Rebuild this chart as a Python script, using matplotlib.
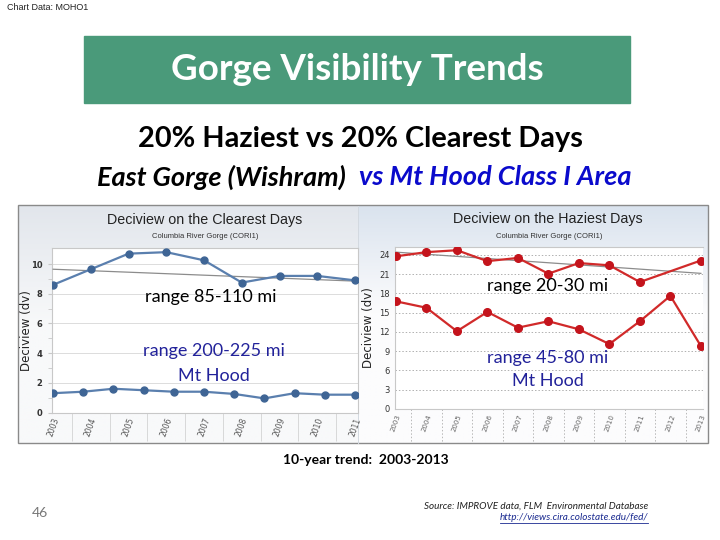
import matplotlib
matplotlib.use('Agg')
import matplotlib.pyplot as plt
import numpy as np
from matplotlib.patches import Rectangle
import matplotlib.transforms as mtransforms

# ---------------- data ----------------
clear_years = ['2003', '2004', '2005', '2006', '2007', '2008', '2009', '2010', '2011']
clear_gorge = [8.6, 9.65, 10.7, 10.8, 10.25, 8.75, 9.2, 9.2, 8.9]
clear_trend = [9.65, 8.85]            # trend at first / last year
hood_years = ['2003', '2004', '2005', '2006', '2007', '2008', '2009', '2010', '2011', '2012', '2013']
clear_hood = [1.3, 1.4, 1.6, 1.5, 1.4, 1.4, 1.25, 0.95, 1.3, 1.2, 1.2]

hazy_years = ['2003', '2004', '2005', '2006', '2007', '2008', '2009', '2010', '2011', '2012', '2013']
hazy_gorge_years = ['2003', '2004', '2005', '2006', '2007', '2008', '2009', '2010', '2011', '2013']
hazy_gorge = [23.75, 24.4, 24.7, 23.0, 23.5, 21.05, 22.7, 22.35, 19.75, 23.1]
hazy_trend = [24.4, 21.1]
hazy_hood = [16.75, 15.75, 12.1, 15.1, 12.65, 13.65, 12.4, 10.1, 13.65, 17.6, 9.8]

clear_yticks = [0, 2, 4, 6, 8, 10]
hazy_yticks = [0, 3, 6, 9, 12, 15, 18, 21, 24]

W, H = 720, 540
fig = plt.figure(figsize=(7.2, 5.4), dpi=100)


def box(x0, y0, x1, y1):
    return [x0 / W, 1 - y1 / H, (x1 - x0) / W, (y1 - y0) / H]


# background canvas in pixel coordinates
bg = fig.add_axes([0, 0, 1, 1], zorder=0)
bg.set_xlim(0, W)
bg.set_ylim(H, 0)
bg.axis('off')


def gradient(x0, x1, y0, y1, top, bottom, stop=0.45):
    n = 200
    t = np.linspace(0, 1, n)
    f = np.clip(t / stop, 0, 1)[:, None]
    top = np.array(top) / 255.0
    bottom = np.array(bottom) / 255.0
    arr = top[None, :] * (1 - f) + bottom[None, :] * f
    bg.imshow(arr[:, None, :], extent=[x0, x1, y1, y0], aspect='auto',
              interpolation='bilinear', zorder=1)


gradient(18, 360, 206, 443, (226, 230, 236), (248, 249, 250), 0.5)
gradient(358, 708, 206, 443, (218, 227, 238), (252, 252, 253), 0.45)
bg.set_xlim(0, W)
bg.set_ylim(H, 0)
bg.add_patch(Rectangle((18, 205), 690, 238, fill=False, ec='#8a8a8a', lw=1.0, zorder=3))
bg.plot([358, 358], [206, 443], color='#d3d9e0', lw=0.7, zorder=3)

# title banner
bg.add_patch(Rectangle((84, 36), 546, 67, color='#4a9a7a', zorder=2))

# ---------------- left chart: clearest days ----------------
axL = fig.add_axes(box(52, 248, 358, 412.5), zorder=2)
axL.set_facecolor('white')
xg = np.arange(len(clear_years))
axL.plot(xg, clear_gorge, color='#5a7fae', lw=1.6, marker='o', ms=5,
         mfc='#3f6595', mec='#3f6595', zorder=4)
axL.plot([xg[0], xg[-1]], clear_trend, color='#8c8c8c', lw=0.9, zorder=3)
axL.set_xlim(-0.03, len(clear_years) - 1 + 0.08)
axL.set_ylim(0, 11.08)
axL.set_yticks(clear_yticks)
axL.set_yticklabels([str(v) for v in clear_yticks], fontsize=6, color='#333333',
                    fontweight='bold')
axL.set_yticks([1, 3, 5, 7, 9], minor=True)
axL.tick_params(axis='y', which='both', length=3, color='#c8c8c8', pad=4)
axL.grid(axis='y', which='major', color='#dcdcdc', lw=0.7)
axL.set_xticks(xg)
axL.set_xticklabels(clear_years, rotation=70, fontsize=5.5, color='#555555')
axL.set_xticks(xg[:-1] + 0.5, minor=True)
axL.tick_params(axis='x', which='major', length=0, pad=3)
axL.tick_params(axis='x', which='minor', length=20, color='#d8d8d8', width=0.7)
for s in axL.spines.values():
    s.set_color('#c8c8c8')
    s.set_linewidth(0.8)
axL.set_ylabel('Deciview (dv)', fontsize=8.5, color='#222222')
axL.yaxis.set_label_coords(-0.062, 0.5)

axL2 = axL.twiny()
xh = np.arange(len(hood_years))
axL2.plot(xh, clear_hood, color='#5a7fae', lw=1.6, marker='o', ms=5,
          mfc='#3f6595', mec='#3f6595', zorder=4)
axL2.set_xlim(-0.033, len(hood_years) - 1 + 0.1)
axL2.set_xticks([])
for s in axL2.spines.values():
    s.set_visible(False)

# ---------------- right chart: haziest days ----------------
axR = fig.add_axes(box(395, 247, 703, 409), zorder=2)
axR.set_facecolor('white')
xr = np.arange(len(hazy_years))
xrg = [hazy_years.index(y) for y in hazy_gorge_years]
axR.plot(xrg, hazy_gorge, color='#d12a2a', lw=1.6, marker='o', ms=5.5,
         mfc='#c4141c', mec='#c4141c', zorder=4)
axR.plot([xr[0], xr[-1]], hazy_trend, color='#8c8c8c', lw=0.9, zorder=3)
axR.plot(xr, hazy_hood, color='#d12a2a', lw=1.6, marker='o', ms=5.5,
         mfc='#c4141c', mec='#c4141c', zorder=4)
axR.set_xlim(-0.03, len(hazy_years) - 1 + 0.07)
axR.set_ylim(0, 25.2)
axR.set_yticks(hazy_yticks)
axR.set_yticklabels([str(v) for v in hazy_yticks], fontsize=6, color='#333333')
axR.tick_params(axis='y', length=0, pad=4)
axR.grid(axis='y', color='#b0b0b0', lw=0.7, ls=(0, (1.5, 2)))
axR.set_xticks(xr)
axR.set_xticklabels(hazy_years, rotation=70, fontsize=5, color='#666666')
axR.tick_params(axis='x', length=0, pad=3)
trans = mtransforms.blended_transform_factory(axR.transData, axR.transAxes)
for xv in xr[:-1] + 0.5:
    axR.plot([xv, xv], [0, -0.21], transform=trans, clip_on=False,
             color='#b8b8b8', lw=0.7, ls=(0, (1.5, 2)))
for k, s in axR.spines.items():
    s.set_color('#c8c8c8')
    s.set_linewidth(0.8)
axR.spines['right'].set_visible(False)
axR.set_ylabel('Deciview (dv)', fontsize=8.5, color='#222222')
axR.yaxis.set_label_coords(-0.065, 0.5)

# ---------------- overlay texts ----------------
top = fig.add_axes([0, 0, 1, 1], zorder=10)
top.set_xlim(0, W)
top.set_ylim(H, 0)
top.axis('off')
top.patch.set_alpha(0)

top.text(7, 8, 'Chart Data: MOHO1', fontsize=6.5, family='Liberation Sans',
         color='#222222', va='center', ha='left')
top.text(357, 70, 'Gorge Visibility Trends', fontsize=26.5, family='Lato',
         fontweight='bold', color='white', ha='center', va='center')
top.text(360, 139, '20% Haziest vs 20% Clearest Days', fontsize=20.8, family='Lato',
         fontweight='bold', color='black', ha='center', va='center')
top.text(97, 177, 'East Gorge (Wishram)', fontsize=19.5, family='Lato', style='italic',
         fontweight='bold', color='black', ha='left', va='center')
top.text(359, 177, 'vs Mt Hood Class I Area', fontsize=19.5, family='Lato', style='italic',
         fontweight='bold', color='#0a0acc', ha='left', va='center')

top.text(205, 220, 'Deciview on the Clearest Days', fontsize=10.3, family='Liberation Sans',
         color='#222222', ha='center', va='center')
top.text(205, 237, 'Columbia River Gorge (CORI1)', fontsize=5.5, family='Liberation Sans',
         color='#333333', ha='center', va='center')
top.text(548, 219, 'Deciview on the Haziest Days', fontsize=10.3, family='Liberation Sans',
         color='#222222', ha='center', va='center')
top.text(549, 236, 'Columbia River Gorge (CORI1)', fontsize=5.5, family='Liberation Sans',
         color='#333333', ha='center', va='center')

ann_font = dict(fontsize=13, family='Lato', ha='center', va='center')
top.text(211, 297, 'range 85-110 mi', color='black', **ann_font)
top.text(214, 351, 'range 200-225 mi', color='#22229a', **ann_font)
top.text(214, 376, 'Mt Hood', color='#22229a', **ann_font)
top.text(548, 286, 'range 20-30 mi', color='black', **ann_font)
top.text(548, 358, 'range 45-80 mi', color='#22229a', **ann_font)
top.text(548, 381, 'Mt Hood', color='#22229a', **ann_font)

top.text(366, 460, '10-year trend:  2003-2013', fontsize=10, family='Lato',
         fontweight='bold', color='black', ha='center', va='center')
top.text(39.5, 513, '46', fontsize=10, family='Lato', color='#777777',
         ha='center', va='center')
top.text(648, 506, 'Source: IMPROVE data, FLM  Environmental Database', fontsize=7.1,
         family='Lato', style='italic', color='#222222', ha='right', va='center')
url = top.text(648, 518, 'http://views.cira.colostate.edu/fed/', fontsize=7.2,
               family='Lato', style='italic', color='#1a2a90', ha='right', va='center')

fig.canvas.draw()
bb = url.get_window_extent(renderer=fig.canvas.get_renderer())
x0p, x1p = bb.x0, bb.x1
top.plot([x0p, x1p], [523, 523], color='#1a2a90', lw=0.6)

fig.savefig('out.png', dpi=100)
